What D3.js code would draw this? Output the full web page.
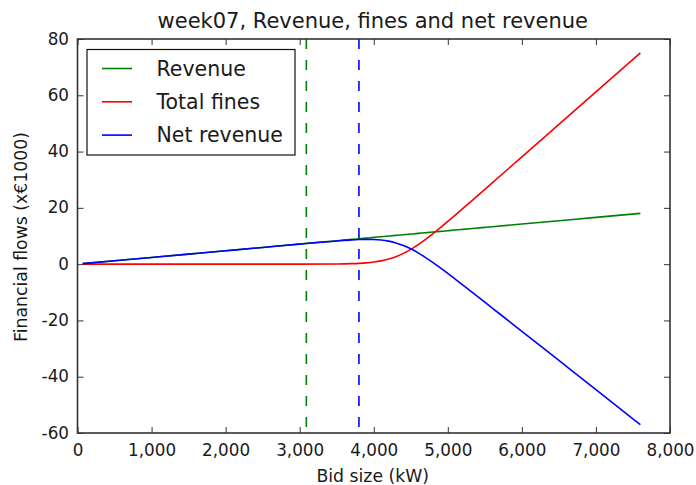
<!DOCTYPE html>
<html>
<head>
<meta charset="utf-8">
<script src="https://cdn.jsdelivr.net/npm/d3@7"></script>
<style>
  html, body { margin: 0; padding: 0; background: #fff; }
  svg { display: block; }
  text { font-family: "DejaVu Sans", sans-serif; fill: #1a1a1a; }
</style>
</head>
<body>
<svg id="chart" width="696" height="485"></svg>
<script>
// Bid sizes (kW) at which the flows were evaluated
const bidSize = [70, 500, 1000, 1500, 2000, 2500, 3000, 3500, 3700, 3800, 3900, 4000, 4100, 4200,
  4300, 4400, 4500, 4600, 4700, 4800, 4900, 5000, 5100, 5200, 5300, 5400, 5500, 5600, 6000, 6500, 7000, 7600];

// Financial flows in thousands of euros
const revenue = [0.17, 1.19, 2.38, 3.56, 4.75, 5.94, 7.13, 8.31, 8.79, 9.03, 9.26, 9.50, 9.74, 9.98,
  10.21, 10.45, 10.69, 10.93, 11.16, 11.40, 11.64, 11.88, 12.11, 12.35, 12.59, 12.83, 13.06, 13.30, 14.25, 15.44, 16.63, 18.05];
const totalFines = [0, 0, 0, 0, 0, 0, 0.01, 0.07, 0.18, 0.29, 0.46, 0.74, 1.16, 1.79,
  2.66, 3.82, 5.25, 6.94, 8.83, 10.86, 12.99, 15.19, 17.43, 19.70, 21.98, 24.28, 26.58, 28.89, 38.12, 49.67, 61.22, 75.08];
const netRevenue = [0.17, 1.19, 2.38, 3.56, 4.75, 5.94, 7.12, 8.24, 8.61, 8.74, 8.80, 8.76, 8.58, 8.19,
  7.55, 6.63, 5.44, 3.99, 2.33, 0.54, -1.35, -3.31, -5.32, -7.35, -9.39, -11.45, -13.52, -15.59, -23.87, -34.23, -44.59, -57.03];

// Vertical markers at two reference bid sizes
const markerBids = [3090, 3800];
const markerColors = ["#008000", "#0000ff"];

const seriesNames = ["Revenue", "Total fines", "Net revenue"];
const seriesColors = ["#008000", "#ff0000", "#0000ff"];
const seriesValues = [revenue, totalFines, netRevenue];

const xTicks = [0, 1000, 2000, 3000, 4000, 5000, 6000, 7000, 8000];
const yTicks = [-60, -40, -20, 0, 20, 40, 60, 80];

const titleText = "week07, Revenue, fines and net revenue";
const xLabel = "Bid size (kW)";
const yLabel = "Financial flows (x€1000)";

// ---- layout ----
const plot = { left: 77.5, right: 670, top: 39, bottom: 433 };

const svg = d3.select("#chart");

const x = d3.scaleLinear().domain([0, 8000]).range([plot.left, plot.right]);
const y = d3.scaleLinear().domain([-60, 80]).range([plot.bottom, plot.top]);

// clip region for data
svg.append("defs").append("clipPath").attr("id", "plotClip")
  .append("rect")
  .attr("x", plot.left).attr("y", plot.top)
  .attr("width", plot.right - plot.left).attr("height", plot.bottom - plot.top);

const dataLayer = svg.append("g").attr("clip-path", "url(#plotClip)");

// dashed vertical markers
markerBids.forEach((b, i) => {
  dataLayer.append("line")
    .attr("x1", x(b)).attr("x2", x(b))
    .attr("y1", plot.top).attr("y2", plot.bottom)
    .attr("stroke", markerColors[i])
    .attr("stroke-width", 1.6)
    .attr("stroke-dasharray", "10,11");
});

// series lines
const line = d3.line()
  .x((d, i) => x(bidSize[i]))
  .y(d => y(d))
  .curve(d3.curveMonotoneX);

seriesValues.forEach((vals, i) => {
  dataLayer.append("path")
    .datum(vals)
    .attr("d", line)
    .attr("fill", "none")
    .attr("stroke", seriesColors[i])
    .attr("stroke-width", 1.6)
    .attr("stroke-linejoin", "round");
});

// ---- axes frame and inward ticks on all four sides ----
const tickLen = 6;
const axisColor = "#333";
const tickFont = "16.8px";
// plain hyphen for negative numbers
const intFormat = d => String(d);

const bottomAxis = d3.axisBottom(x).tickValues(xTicks).tickSizeInner(-tickLen).tickSizeOuter(0)
  .tickFormat(d3.format(","));
const topAxis = d3.axisTop(x).tickValues(xTicks).tickSizeInner(-tickLen).tickSizeOuter(0).tickFormat("");
const leftAxis = d3.axisLeft(y).tickValues(yTicks).tickSizeInner(-tickLen).tickSizeOuter(0)
  .tickFormat(intFormat);
const rightAxis = d3.axisRight(y).tickValues(yTicks).tickSizeInner(-tickLen).tickSizeOuter(0).tickFormat("");

function styleAxis(g) {
  g.select(".domain").remove();
  g.selectAll(".tick line").attr("stroke", axisColor).attr("stroke-width", 1);
  g.selectAll(".tick text").attr("fill", "#1a1a1a")
    .style("font-family", "'DejaVu Sans', sans-serif").style("font-size", tickFont);
}

const gBottom = svg.append("g").attr("transform", `translate(0,${plot.bottom})`).call(bottomAxis).call(styleAxis);
gBottom.selectAll(".tick text").attr("dy", null).attr("y", 22.5);

svg.append("g").attr("transform", `translate(0,${plot.top})`).call(topAxis).call(styleAxis);

const gLeft = svg.append("g").attr("transform", `translate(${plot.left},0)`).call(leftAxis).call(styleAxis);
gLeft.selectAll(".tick text").attr("dy", null).attr("x", -8.5).attr("y", 5);

svg.append("g").attr("transform", `translate(${plot.right},0)`).call(rightAxis).call(styleAxis);

svg.append("rect")
  .attr("x", plot.left).attr("y", plot.top)
  .attr("width", plot.right - plot.left).attr("height", plot.bottom - plot.top)
  .attr("fill", "none").attr("stroke", axisColor).attr("stroke-width", 1.6);

// ---- title and axis labels ----
const midX = (plot.left + plot.right) / 2;
const midY = (plot.top + plot.bottom) / 2;

svg.append("text")
  .attr("text-anchor", "middle")
  .attr("x", midX - 1).attr("y", 28)
  .style("font-size", "21px")
  .text(titleText);

svg.append("text")
  .attr("text-anchor", "middle")
  .attr("x", midX - 1).attr("y", 482)
  .style("font-size", "17.3px")
  .text(xLabel);

svg.append("text")
  .attr("text-anchor", "middle")
  .attr("transform", `translate(26.5,${midY + 1}) rotate(-90)`)
  .style("font-size", "17.3px")
  .text(yLabel);

// ---- legend ----
const legend = svg.append("g");
const lg = { x: 87, y: 49.5, w: 208, h: 105.5 };
legend.append("rect")
  .attr("x", lg.x).attr("y", lg.y).attr("width", lg.w).attr("height", lg.h)
  .attr("fill", "#fff").attr("stroke", "#111").attr("stroke-width", 1.2);

seriesNames.forEach((name, i) => {
  const cy = 68.5 + i * 33.3;
  legend.append("line")
    .attr("x1", 102).attr("x2", 132)
    .attr("y1", cy).attr("y2", cy)
    .attr("stroke", seriesColors[i]).attr("stroke-width", 1.6);
  legend.append("text")
    .attr("x", 156.5).attr("y", cy + 7)
    .style("font-size", "20.5px")
    .text(name);
});
</script>
</body>
</html>
